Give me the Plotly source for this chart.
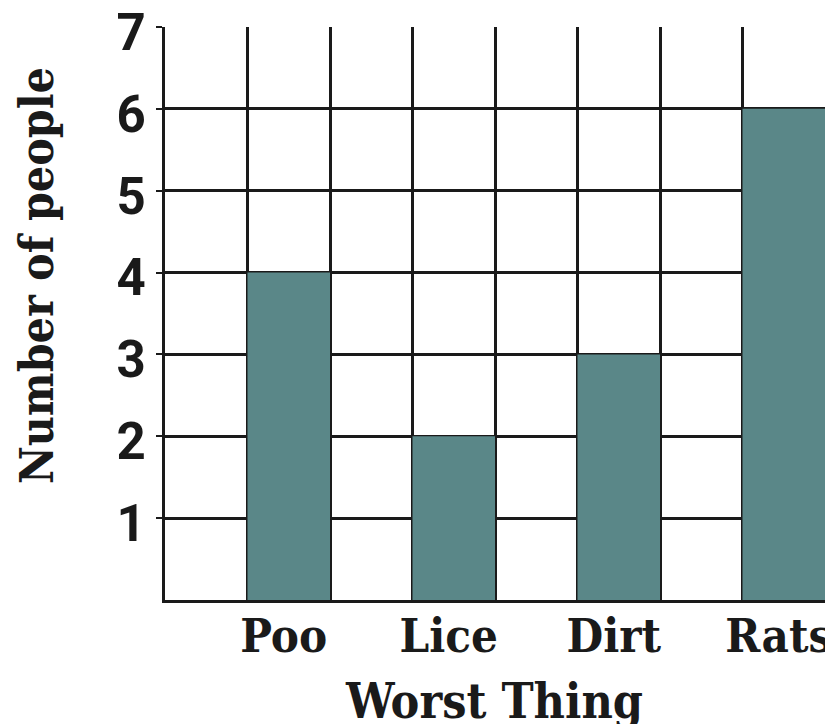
import plotly.graph_objects as go

categories = ["Poo", "Lice", "Dirt", "Rats"]
values = [4, 2, 3, 6]
positions = [1.5, 3.5, 5.5, 7.5]
y_ticks = [1, 2, 3, 4, 5, 6, 7]
x_title = "Worst Thing"
y_title = "Number of people"

SERIF = "DejaVu Serif Condensed, DejaVu Serif, serif"
SANS = "Roboto, Liberation Sans, sans-serif"
GRID = "#1a1a1a"
BAR = "#5a8788"

fig = go.Figure(go.Bar(x=positions, y=values, width=1, marker=dict(color=BAR, line=dict(width=0))))

# page body has an 8px default margin, so the figure is sized to fill the rest of the window
fig.update_layout(
    width=825, height=716,
    margin=dict(l=157, r=8, t=19, b=124, autoexpand=False),
    paper_bgcolor="white", plot_bgcolor="white",
    showlegend=False,
    font=dict(family=SERIF, color="#1a1a1a"),
)
fig.update_xaxes(
    range=[0, 8], tickvals=positions, ticktext=categories,
    tickfont=dict(size=47, family=SERIF, weight="bold", color="#1a1a1a"),
    showgrid=False, zeroline=False, automargin=False,
    ticklabeloverflow="allow", ticklabelshift=-5,
    showline=True, linecolor=GRID, linewidth=3,
    ticks="", ticklabelstandoff=-7,
    minor=dict(tickvals=list(range(0, 9)), showgrid=True, gridcolor=GRID, gridwidth=3),
)
fig.update_yaxes(
    range=[0, 7], tickvals=y_ticks,
    tickfont=dict(size=51, family=SANS, weight="bold", color="#1a1a1a"),
    showgrid=True, gridcolor=GRID, gridwidth=3,
    zeroline=False, showline=True, linecolor=GRID, linewidth=3,
    automargin=False, ticklabeloverflow="allow", ticklabelshift=5,
    ticks="outside", ticklen=6, tickwidth=2, tickcolor=GRID,
)
fig.add_annotation(text=y_title, xref="paper", yref="paper", x=-0.194, y=0.567,
                   textangle=-90, showarrow=False, xanchor="center", yanchor="middle",
                   font=dict(size=46, family=SERIF, weight="bold", color="#1a1a1a"))
fig.add_annotation(text=x_title, xref="paper", yref="paper", x=0.499, y=-0.176,
                   showarrow=False, xanchor="center", yanchor="middle",
                   font=dict(size=48, family=SERIF, weight="bold", color="#1a1a1a"))

fig.write_html("out.html")
